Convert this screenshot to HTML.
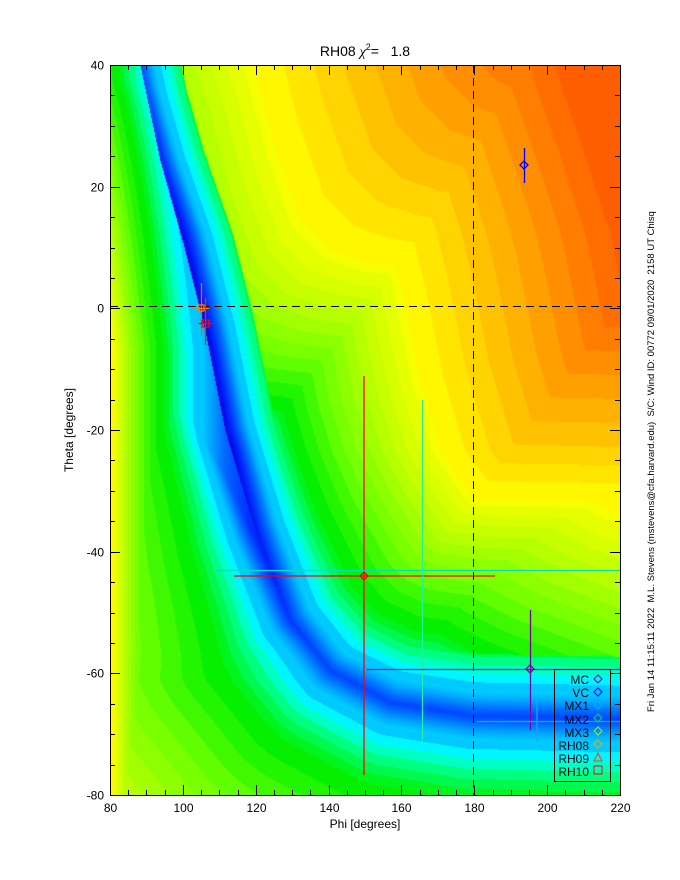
<!DOCTYPE html>
<html><head><meta charset="utf-8"><style>
body{margin:0;background:#fff;width:680px;height:880px;overflow:hidden;position:relative;font-family:"Liberation Sans",sans-serif}
canvas{position:absolute;left:110px;top:65px}
svg{position:absolute;left:0;top:0}
</style></head><body>
<canvas id="c" width="510" height="730"></canvas>
<svg width="680" height="880" xmlns="http://www.w3.org/2000/svg" font-family="Liberation Sans, sans-serif">
<g id="ticks" stroke="#000" stroke-width="1"></g>
<rect x="110.5" y="65.5" width="510" height="730" fill="none" stroke="#000"/>
<line x1="110" y1="306.5" x2="620" y2="306.5" stroke="#000" stroke-dasharray="8,5"/>
<line x1="473.5" y1="65" x2="473.5" y2="795" stroke="#000" stroke-dasharray="8,5"/>
<g stroke-width="1.3" fill="none">
<line x1="364" y1="376" x2="364" y2="775" stroke="#ff0000"/>
<line x1="234" y1="576" x2="495" y2="576" stroke="#ff0000"/>
<path d="M364 572 L368 576 L364 580 L360 576Z" stroke="#ff0000"/>
<line x1="215" y1="570.5" x2="620" y2="570.5" stroke="#00e0c0"/>
<line x1="422.5" y1="400" x2="422.5" y2="740" stroke="#20f0a0"/>
<line x1="367" y1="669.5" x2="620" y2="669.5" stroke="#8000a0"/>
<line x1="530.5" y1="610" x2="530.5" y2="730" stroke="#8000a0"/>
<path d="M530 665 L534 669 L530 673 L526 669Z" stroke="#8000a0"/>
<line x1="477" y1="721.5" x2="620" y2="721.5" stroke="#20a0ff"/>
<line x1="537" y1="700" x2="537" y2="742" stroke="#20a0ff"/>
<line x1="524.5" y1="148" x2="524.5" y2="183" stroke="#0000ff"/>
<path d="M524 161 L528 165 L524 169 L520 165Z" stroke="#0000ff"/>
<line x1="201.5" y1="283" x2="201.5" y2="335" stroke="#ff6000"/>
<line x1="195" y1="308.5" x2="209" y2="308.5" stroke="#ff8000"/>
<rect x="198" y="305" width="6" height="6" stroke="#ff8000"/>
<line x1="205.5" y1="298" x2="205.5" y2="345" stroke="#ff2000"/>
<line x1="198" y1="323.5" x2="213" y2="323.5" stroke="#ff0000"/>
<rect x="202" y="320" width="7" height="7" stroke="#ff0000"/>
</g>
<rect x="554.5" y="669.5" width="56" height="112" fill="none" stroke="#000"/>
<g font-size="12" text-anchor="end" fill="#000">
<text x="589" y="684">MC</text><text x="589" y="697">VC</text><text x="589" y="710">MX1</text><text x="589" y="724">MX2</text><text x="589" y="737">MX3</text><text x="589" y="750">RH08</text><text x="589" y="763">RH09</text><text x="589" y="776">RH10</text>
</g>
<g fill="none" stroke-width="1">
<path d="M598 675 L602 679 L598 683 L594 679Z" stroke="#8000a0"/>
<path d="M598 688 L602 692 L598 696 L594 692Z" stroke="#0000ff"/>
<path d="M598 701 L602 705 L598 709 L594 705Z" stroke="#00b0ff"/>
<path d="M598 714 L602 718 L598 722 L594 718Z" stroke="#00e040"/>
<path d="M598 727 L602 731 L598 735 L594 731Z" stroke="#a0f000"/>
<path d="M598 740 L602 744 L598 748 L594 744Z" stroke="#ffa000"/>
<path d="M598 753 L602 761 L594 761Z" stroke="#ff4000"/>
<rect x="594" y="766" width="8" height="8" stroke="#ff0000"/>
</g>
<text x="365" y="56" font-size="14" text-anchor="middle" xml:space="preserve">RH08 <tspan font-family="Liberation Serif, serif" font-style="italic">χ</tspan><tspan font-size="9" dy="-6">2</tspan><tspan dy="6">=   1.8</tspan></text>
<g font-size="12" fill="#000" id="lab"></g>
<text x="365" y="828" font-size="12" text-anchor="middle">Phi [degrees]</text>
<text transform="translate(73,430) rotate(-90)" font-size="12" text-anchor="middle">Theta [degrees]</text>
<text transform="translate(654,712) rotate(-90)" font-size="9.5" xml:space="preserve">Fri Jan 14 11:15:11 2022  M.L. Stevens (mstevens@cfa.harvard.edu)  S/C: Wind ID: 00772 09/01/2020  2158 UT Chisq</text>
</svg>
<script>
var NS="http://www.w3.org/2000/svg";
var tg=document.getElementById('ticks'),lg=document.getElementById('lab');
function L(a,b,c,d){var l=document.createElementNS(NS,'line');l.setAttribute('x1',a);l.setAttribute('y1',b);l.setAttribute('x2',c);l.setAttribute('y2',d);tg.appendChild(l);}
function T(x,y,s,anc){var t=document.createElementNS(NS,'text');t.setAttribute('x',x);t.setAttribute('y',y);t.setAttribute('text-anchor',anc);t.textContent=s;lg.appendChild(t);}
for(var p=80;p<=220;p+=5){var x=Math.round(110+(p-80)*510/140)+0.5;var m=(p%20==0);var h=m?10:5;L(x,795,x,795-h);L(x,65,x,65+h);if(m)T(x,812,p,'middle');}
for(var t=40;t>=-80;t-=5){var y=Math.round(65+(40-t)*730/120)+0.5;var m=(t%20==0);var h=m?10:5;L(110,y,110+h,y);L(620,y,620-h,y);if(m)T(104,y+4,t,'end');}
var pts=[[134,30],[140,65],[160,160],[185,250],[205,330],[225,430],[255,530],[290,620],[330,670],[390,702],[470,715],[640,719]];
function dist(x,y){var best=1e9,side=1;for(var i=0;i<pts.length-1;i++){var a=pts[i],b=pts[i+1];var dx=b[0]-a[0],dy=b[1]-a[1];var t=((x-a[0])*dx+(y-a[1])*dy)/(dx*dx+dy*dy);t=Math.max(0,Math.min(1,t));var px=a[0]+t*dx-x,py=a[1]+t*dy-y;var d=Math.sqrt(px*px+py*py);if(d<best){best=d;side=(dx*(y-a[1])-dy*(x-a[0]))>0?-1:1;}}return [best,side];}
var C=[[150,-300],[230,0],[253,65],[275,150],[300,220],[330,250],[370,263],[410,268],[445,276],[470,292],[488,320],[503,370],[520,425],[545,465],[580,495],[620,515],[700,545],[900,620]];
function cf(x){if(x<=C[0][0])return C[0][1]+(x-C[0][0])*4;for(var i=0;i<C.length-1;i++){if(x<=C[i+1][0]){var f=(x-C[i][0])/(C[i+1][0]-C[i][0]);return C[i][1]+f*(C[i+1][1]-C[i][1]);}}return C[C.length-1][1]+(x-900)*0.4;}
function goff(x,y){var lo=-500,hi=700;for(var k=0;k<28;k++){var m=(lo+hi)/2;if(cf(x-m)-(y+m)>0)lo=m;else hi=m;}return (lo+hi)/2;}
var hs=[[0,240,0.45],[8,228,0.5],[14,215,0.5],[20,200,0.5],[30,182,0.5],[42,150,0.5],[58,120,0.47],[100,95,0.5],[150,75,0.5],[200,60,0.5]];
function hsl(h,l){h/=360;var q=l<.5?l*2:1,p=2*l-q;function f(t){t=(t%1+1)%1;if(t<1/6)return p+(q-p)*6*t;if(t<.5)return q;if(t<2/3)return p+(q-p)*(2/3-t)*6;return p;}return [f(h+1/3)*255,f(h)*255,f(h-1/3)*255];}
function clamp(v){return Math.max(0,Math.min(1,v));}
var c=document.getElementById('c').getContext('2d');var im=c.createImageData(510,730);
for(var y=0;y<730;y++){var py=y+65;
var s=1.0-0.4*clamp((py-450)/230);
var off=10*(1-clamp((py-90)/140))+10*clamp((py-450)/200);
var wy=0.35+0.65*clamp((py-80)/270);
for(var x=0;x<510;x++){var px=x+110;var r=dist(px,py),d=r[0];
var u=off+d*s;
if(r[1]>0){if(u>50){var t=goff(px,py);var g=200+t;if(g>u)u=g;}}
else{var hl=215*Math.exp(-(px-110)/42)*wy;if(hl>u)u=hl;}
var h,l=0.5;
if(u>=200){var q=Math.floor((u-200)/24)*24;h=Math.max(22,58-q*0.17);}
else{if(u>25)u=Math.floor(u/(u<60?6:12))*(u<60?6:12);
for(var i=0;i<hs.length-1;i++){if(u<=hs[i+1][0]||i==hs.length-2){var f=Math.min(1,(u-hs[i][0])/(hs[i+1][0]-hs[i][0]));h=hs[i][1]+f*(hs[i+1][1]-hs[i][1]);l=hs[i][2]+f*(hs[i+1][2]-hs[i][2]);break;}}}
var col=hsl(h,l);var k=(y*510+x)*4;im.data[k]=col[0];im.data[k+1]=col[1];im.data[k+2]=col[2];im.data[k+3]=255;}}
c.putImageData(im,0,0);
</script>
</body></html>
